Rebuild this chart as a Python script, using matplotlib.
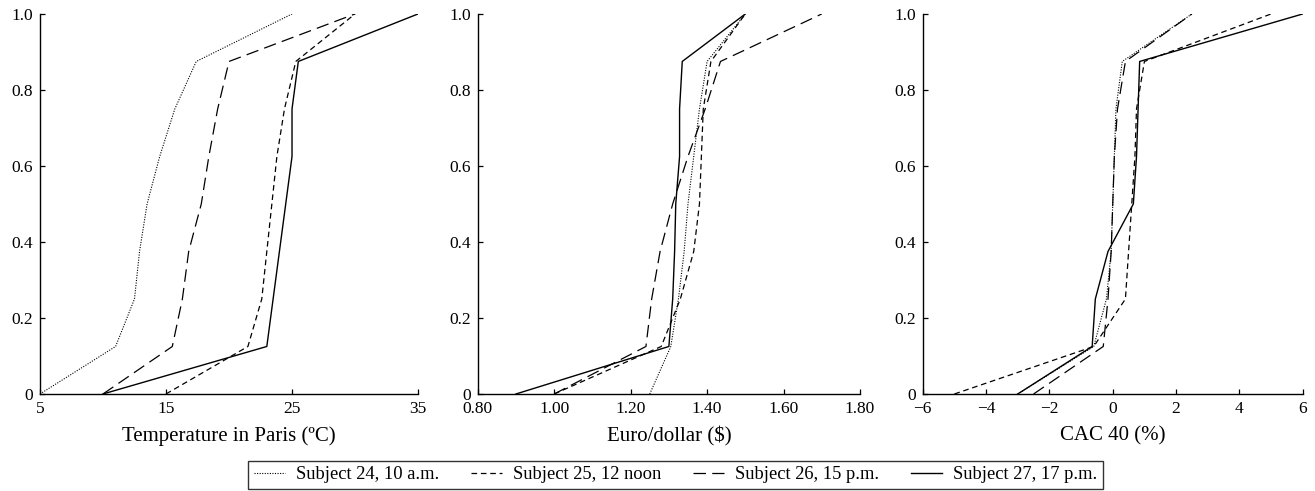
import numpy as np
import matplotlib
matplotlib.use('Agg')
import matplotlib.pyplot as plt
from matplotlib.ticker import FuncFormatter

plt.rcParams['font.family'] = ['Liberation Serif', 'DejaVu Serif']

# cumulative probability levels (same for every subject)
levels = [0, 0.125, 0.25, 0.375, 0.5, 0.625, 0.75, 0.875, 1.0]

subjects = ['Subject 24, 10 a.m.', 'Subject 25, 12 noon',
            'Subject 26, 15 p.m.', 'Subject 27, 17 p.m.']

# temperature in Paris
temp_s24 = [5, 11, 12.5, 12.9, 13.5, 14.5, 15.7, 17.4, 25]
temp_s25 = [15, 21.5, 22.6, 23, 23.4, 23.8, 24.4, 25.3, 30]
temp_s26 = [10, 15.5, 16.3, 16.8, 17.8, 18.4, 19.1, 20, 30]
temp_s27 = [10, 23, 23.5, 24, 24.5, 25, 25, 25.5, 35]

# euro/dollar
eur_s24 = [1.25, 1.305, 1.325, 1.34, 1.35, 1.365, 1.38, 1.40, 1.50]
eur_s25 = [1.00, 1.28, 1.33, 1.365, 1.38, 1.385, 1.39, 1.41, 1.50]
eur_s26 = [1.00, 1.24, 1.255, 1.277, 1.31, 1.35, 1.395, 1.435, 1.70]
eur_s27 = [0.90, 1.30, 1.31, 1.315, 1.318, 1.328, 1.328, 1.335, 1.50]

# CAC 40
cac_s24 = [-3, -0.6, -0.2, -0.05, 0, 0.05, 0.1, 0.3, 2.5]
cac_s25 = [-5, -0.6, 0.4, 0.5, 0.6, 0.7, 0.75, 1.0, 5]
cac_s26 = [-2.5, -0.3, -0.15, -0.05, 0, 0.05, 0.15, 0.4, 2.5]
cac_s27 = [-3, -0.65, -0.55, -0.15, 0.65, 0.75, 0.8, 0.85, 6]

styles = [dict(linestyle=(0, (1, 1.3)), linewidth=0.8),
          dict(linestyle=(0, (4.5, 3)), linewidth=0.9),
          dict(linestyle=(0, (10, 5)), linewidth=0.9),
          dict(linestyle='-', linewidth=1.0)]

panels = [
    ('Temperature in Paris (ºC)', [temp_s24, temp_s25, temp_s26, temp_s27],
     (5, 35), [5, 15, 25, 35], '{:g}'),
    ('Euro/dollar ($)', [eur_s24, eur_s25, eur_s26, eur_s27],
     (0.8, 1.8), np.arange(0.8, 1.81, 0.2), '{:.2f}'),
    ('CAC 40 (%)', [cac_s24, cac_s25, cac_s26, cac_s27],
     (-6, 6), np.arange(-6, 7, 2), '{:g}'),
]

fig = plt.figure(figsize=(13.15, 4.91), dpi=100)
lefts = [0.0304, 0.3633, 0.7017]
widths = [0.2875, 0.2907, 0.289]

handles = []
for i, (label, series, xlim, xticks, fmt) in enumerate(panels):
    ax = fig.add_axes([lefts[i], 0.1976, widths[i], 0.774])
    for s, st, name in zip(series, styles, subjects):
        ln, = ax.plot(s, levels, color='black', label=name, **st)
        if i == 0:
            handles.append(ln)
    ax.set_xlim(*xlim)
    ax.set_ylim(0, 1)
    ax.set_xticks(xticks)
    ax.set_yticks(np.arange(0, 1.01, 0.2))
    if fmt == '{:g}':
        ax.xaxis.set_major_formatter(FuncFormatter(
            lambda v, p: ('{:g}'.format(v)).replace('-', '\u2212')))
    else:
        ax.xaxis.set_major_formatter(FuncFormatter(lambda v, p: '{:.2f}'.format(v)))
    ax.yaxis.set_major_formatter(FuncFormatter(
        lambda v, p: '0' if abs(v) < 1e-9 else '{:.1f}'.format(v)))
    for side in ['top', 'right']:
        ax.spines[side].set_visible(False)
    for side in ['left', 'bottom']:
        ax.spines[side].set_linewidth(1.0)
    ax.tick_params(direction='in', length=3.5, width=0.9, labelsize=12.5)
    ax.tick_params(axis='y', pad=5)
    ax.tick_params(axis='x', pad=5)
    ax.set_xlabel(label, fontsize=15, labelpad=7)

leg = fig.legend(handles=handles, loc='center', bbox_to_anchor=(0.5137, 0.033),
                 ncol=4, fontsize=13.3, frameon=True, fancybox=False,
                 edgecolor='black', handlelength=1.7, handletextpad=0.6,
                 columnspacing=1.7, borderpad=0.3)
leg.get_frame().set_linewidth(1.0)

fig.savefig('out.png', dpi=100, facecolor='white')
